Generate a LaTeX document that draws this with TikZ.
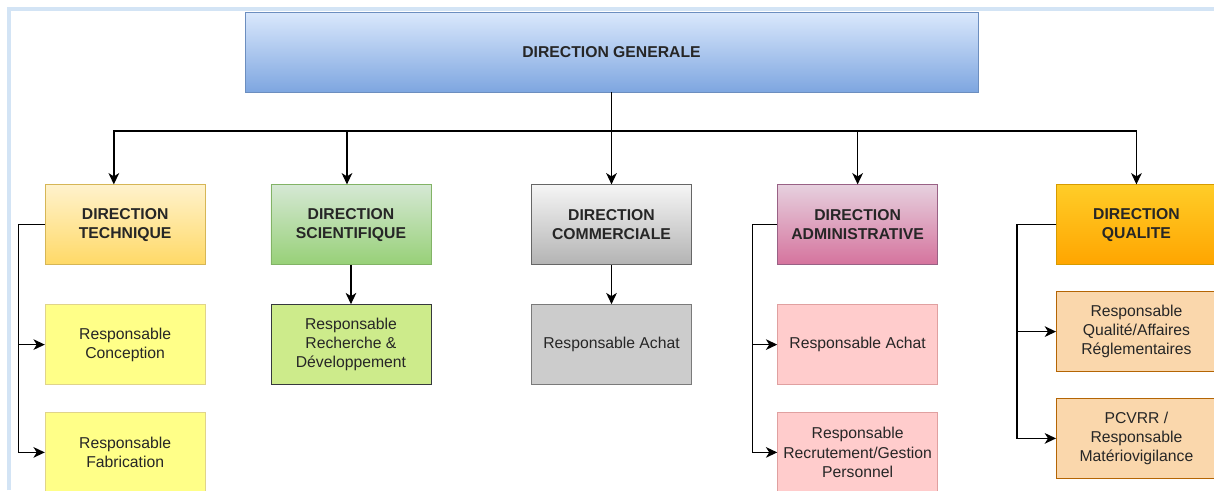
\documentclass[tikz,border=0pt]{standalone}
\usepackage{fontspec}
\setmainfont{Liberation Sans}
\usetikzlibrary{shapes,arrows.meta,positioning}

\definecolor{frameblue}{HTML}{D3E4F5}
\definecolor{dgtop}{HTML}{DAE8FC}\definecolor{dgbot}{HTML}{7EA6E0}\definecolor{dgline}{HTML}{6C8EBF}
\definecolor{dttop}{HTML}{FFF2CC}\definecolor{dtbot}{HTML}{FFD966}\definecolor{dtline}{HTML}{D6B656}
\definecolor{dstop}{HTML}{D5E8D4}\definecolor{dsbot}{HTML}{97D077}\definecolor{dsline}{HTML}{82B366}
\definecolor{dctop}{HTML}{F5F5F5}\definecolor{dcbot}{HTML}{B3B3B3}\definecolor{dcline}{HTML}{666666}
\definecolor{datop}{HTML}{E6D0DE}\definecolor{dabot}{HTML}{D5739D}\definecolor{daline}{HTML}{996185}
\definecolor{dqtop}{HTML}{FFCD28}\definecolor{dqbot}{HTML}{FFA500}\definecolor{dqline}{HTML}{D79B00}
\definecolor{rtfill}{HTML}{FFFF88}\definecolor{rtline}{HTML}{E0D48A}
\definecolor{rsfill}{HTML}{CDEB8B}\definecolor{rsline}{HTML}{36393D}
\definecolor{rcfill}{HTML}{CCCCCC}\definecolor{rcline}{HTML}{7A7A7A}
\definecolor{rafill}{HTML}{FFCCCC}\definecolor{raline}{HTML}{E0A0A0}
\definecolor{rqfill}{HTML}{FAD7AC}\definecolor{rqline}{HTML}{B46504}

\tikzstyle{box} = [draw, rectangle, minimum width=120pt, minimum height=60pt, inner sep=2pt, align=center, text=black!85, line width=0.6pt, font=\fontsize{11.8}{14.3}\selectfont]
\tikzstyle{dir} = [box, font=\fontsize{11.8}{14.3}\selectfont\bfseries]
\tikzstyle{frame} = [draw=frameblue, line width=3pt]

\begin{document}
\begin{tikzpicture}[->,>={Stealth[length=8.5pt,width=8pt,inset=2.5pt]},line width=1pt,x=0.75pt,y=-0.75pt]
\useasboundingbox (0,0) rectangle (1214,490);
\draw[-,frame] (9,490) -- (9,9) -- (1214,9);

\node[dir, top color=dgtop, bottom color=dgbot, draw=dgline, minimum width=549.75pt] (dg) at (611.5,52) {DIRECTION GENERALE};

\node[dir, top color=dctop, bottom color=dcbot, draw=dcline] (dc) [below=69pt of dg] {DIRECTION\\COMMERCIALE};
\node[dir, top color=dstop, bottom color=dsbot, draw=dsline] (ds) [left=74.8pt of dc] {DIRECTION\\SCIENTIFIQUE};
\node[dir, top color=dttop, bottom color=dtbot, draw=dtline] (dt) [left=48.75pt of ds] {DIRECTION\\TECHNIQUE};
\node[dir, top color=datop, bottom color=dabot, draw=daline] (da) [right=64pt of dc] {DIRECTION\\ADMINISTRATIVE};
\node[dir, top color=dqtop, bottom color=dqbot, draw=dqline] (dq) [right=88.5pt of da] {DIRECTION\\QUALITE};

\node[box, fill=rtfill, draw=rtline] (rc) [below=29.25pt of dt] {Responsable\\Conception};
\node[box, fill=rtfill, draw=rtline] (rf) [below=20.25pt of rc] {Responsable\\Fabrication};
\node[box, fill=rsfill, draw=rsline] (rr) [below=29.25pt of ds] {Responsable\\Recherche \&\\Développement};
\node[box, fill=rcfill, draw=rcline] (ra) [below=29.25pt of dc] {Responsable Achat};
\node[box, fill=rafill, draw=raline] (aa) [below=29.25pt of da] {Responsable Achat};
\node[box, fill=rafill, draw=raline] (ag) [below=20.25pt of aa] {Responsable\\Recrutement/Gestion\\Personnel};
\node[box, fill=rqfill, draw=rqline] (qa) [below=19.5pt of dq] {Responsable\\Qualité/Affaires\\Réglementaires};
\node[box, fill=rqfill, draw=rqline] (qm) [below=19.5pt of qa] {PCVRR /\\Responsable\\Matériovigilance};

\coordinate (bus) at (611.5,131);

  \path
    (dg) edge [-] (bus)
    (bus) edge [] (dc)
    (ds) edge [] (rr)
    (dc) edge [] (ra);

  \draw (bus) -| ([xshift=-8.5pt]dt.north);
  \draw (bus) -| ([xshift=-3pt]ds.north);
  \draw (bus) -| (da);
  \draw (bus) -| (dq);

  \draw (dt.west) -- ++(-19.5pt,0) |- (rc);
  \draw (dt.west) -- ++(-19.5pt,0) |- (rf);
  \draw (da.west) -- ++(-18.75pt,0) |- (aa);
  \draw (da.west) -- ++(-18.75pt,0) |- (ag);
  \draw (dq.west) -- ++(-29.25pt,0) |- (qa);
  \draw (dq.west) -- ++(-29.25pt,0) |- (qm);

\end{tikzpicture}
\end{document}
